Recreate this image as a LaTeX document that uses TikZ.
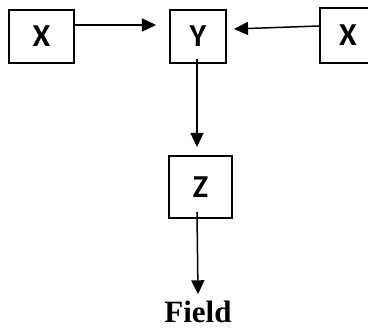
\documentclass[tikz,border=0pt]{standalone}
\usepackage{fontspec}
\setmainfont{Liberation Serif}
\newfontfamily\boxfont[BoldFont={Carlito Bold}]{Carlito}
\usetikzlibrary{arrows.meta,calc}
\tikzset{
  box/.style={draw, line width=2pt, minimum width=#1, inner sep=0pt, font=\fontsize{32}{32}\boxfont\bfseries},
  conn/.style={line width=1.5pt, -{Triangle[length=14pt,width=13pt]}},
}
\begin{document}
\begin{tikzpicture}[x=1pt,y=-1pt]
\useasboundingbox (0,0) rectangle (368,331);
\node[box=65pt, minimum height=53pt] (x1) at (41.5,36.5) {X};
\node[box=56pt, minimum height=53pt] (y) at (198,36.5) {Y};
\node[box=56pt, minimum height=55pt] (x2) at (348,35.5) {X};
\node[box=63pt, minimum height=62pt] (z) at (200.5,187) {Z};
\node[anchor=base, font=\bfseries\fontsize{31}{31}\selectfont, inner sep=0pt] (f) at (198,323) {Field};
\draw[conn] ($(x1.east)+(0,-11.5)$) -- ($(y.west)+(-13,-11.5)$);
\draw[conn] ($(x2.west)+(0,-9.5)$) -- ($(y.east)+(7,-7.5)$);
\draw[conn] ($(y.south)+(-1,-5)$) -- ($(z.north)+(-3.5,-8)$);
\draw[conn] ($(z.south)+(-3.5,-7)$) -- ($(f.north)+(0,-7)$);
\end{tikzpicture}
\end{document}
